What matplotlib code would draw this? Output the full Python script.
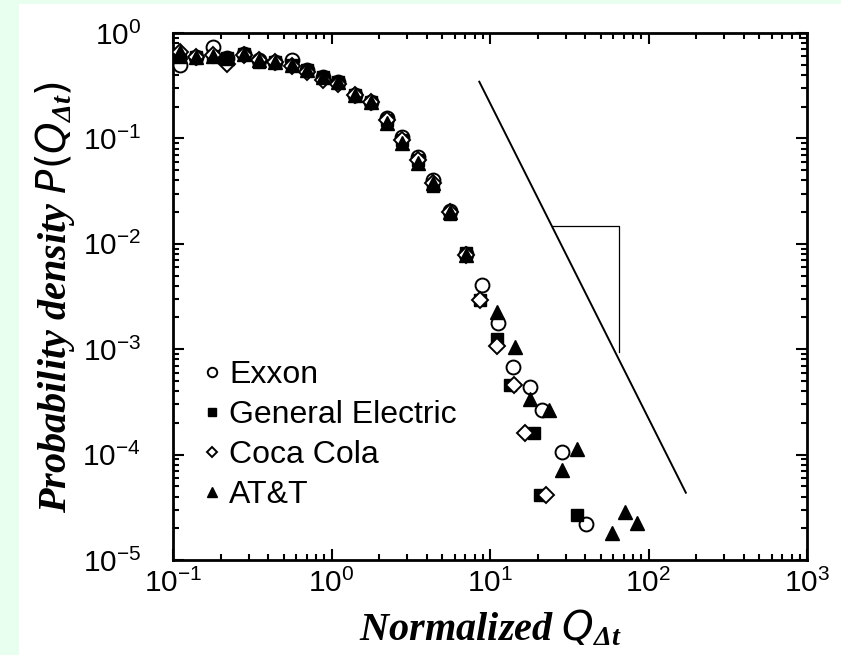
import numpy as np
import matplotlib
matplotlib.use("Agg")
from matplotlib import pyplot as plt
from matplotlib.patches import Rectangle
from matplotlib.ticker import LogLocator, FuncFormatter, NullFormatter

# data
x_common = [0.11, 0.14, 0.18, 0.22, 0.28, 0.35, 0.44, 0.56, 0.70, 0.88,
            1.1, 1.4, 1.78, 2.24, 2.8, 3.5, 4.4, 5.6, 7.1]

exxon_x = x_common + [8.86, 11.3, 13.9, 17.8, 21.3, 28.4, 40.2]
exxon_y = [0.50, 0.59, 0.74, 0.58, 0.63, 0.55, 0.53, 0.55, 0.45, 0.38,
           0.34, 0.26, 0.22, 0.156, 0.103, 0.067, 0.040, 0.0205, 0.0080,
           0.00406, 0.00176, 6.8e-4, 4.4e-4, 2.65e-4, 1.07e-4, 2.2e-5]

ge_x = x_common + [8.65, 11.0, 13.4, 18.9, 20.7, 35.2]
ge_y = [0.59, 0.59, 0.60, 0.58, 0.63, 0.53, 0.53, 0.50, 0.45, 0.38,
        0.34, 0.26, 0.22, 0.15, 0.097, 0.062, 0.035, 0.019, 0.0082,
        0.00293, 0.00125, 4.57e-4, 1.59e-4, 4.14e-5, 2.67e-5]

coke_x = x_common + [8.65, 11.0, 14.2, 16.6, 22.5]
coke_y = [0.66, 0.59, 0.62, 0.51, 0.62, 0.55, 0.53, 0.49, 0.43, 0.36,
          0.33, 0.26, 0.22, 0.15, 0.097, 0.062, 0.038, 0.020, 0.0078,
          0.00293, 0.00107, 4.57e-4, 1.59e-4, 4.14e-5]

att_x = x_common + [11.0, 14.4, 17.9, 23.6, 28.4, 35.2, 59.1, 71.1, 85.0]
att_y = [0.66, 0.59, 0.60, 0.58, 0.63, 0.55, 0.53, 0.50, 0.45, 0.38,
         0.34, 0.26, 0.22, 0.14, 0.090, 0.058, 0.038, 0.020, 0.0078,
         0.00227, 1.06e-3, 3.37e-4, 2.65e-4, 7.14e-5, 1.12e-4, 1.79e-5,
         2.87e-5, 2.23e-5]

# power law guide line (slope -3) and its bracket
fit_x = [8.56, 172.0]
fit_y = [0.345, 4.35e-5]
bracket_x = [24.6, 65.2, 65.2]
bracket_y = [0.01475, 0.01475, 9.5e-4]

plt.rcParams['font.family'] = ['Liberation Sans', 'DejaVu Sans']
plt.rcParams['mathtext.default'] = 'regular'

fig = plt.figure(figsize=(8.41, 6.55), dpi=100, facecolor='#e8fff0')
fig.patches.append(Rectangle((19/841, 0), 1, 1 - 4/655, transform=fig.transFigure,
                             facecolor='white', edgecolor='none', zorder=-1))
ax = fig.add_axes([173/841, 1 - 560/655, 634/841, 527/655])
ax.set_facecolor('white')

ms = 10
ax.plot(fit_x, fit_y, color='black', lw=1.4)
ax.plot(bracket_x, bracket_y, color='black', lw=0.9)
ax.plot(exxon_x, exxon_y, 'o', ms=ms, mfc='white', mec='black', mew=1.4,
        label='Exxon', zorder=3)
ax.plot(ge_x, ge_y, 's', ms=ms - 1, mfc='black', mec='black',
        label='General Electric', zorder=3)
ax.plot(coke_x, coke_y, 'D', ms=ms - 2, mfc='white', mec='black', mew=1.4,
        label='Coca Cola', zorder=3)
ax.plot(att_x, att_y, '^', ms=ms, mfc='black', mec='black',
        label='AT&T', zorder=3)

ax.set_xscale('log')
ax.set_yscale('log')
ax.set_xlim(0.1, 1000)
ax.set_ylim(1e-5, 1)

fmt = FuncFormatter(lambda v, p: r'$10^{%d}$' % int(round(np.log10(v))))
for a in (ax.xaxis, ax.yaxis):
    a.set_major_locator(LogLocator(base=10, numticks=10))
    a.set_minor_locator(LogLocator(base=10, subs=np.arange(2, 10), numticks=10))
    a.set_major_formatter(fmt)
    a.set_minor_formatter(NullFormatter())

ax.tick_params(which='both', direction='in', top=True, right=True,
               width=1.5, labelsize=21.5)
ax.tick_params(which='major', length=8)
ax.tick_params(which='minor', length=4)
ax.tick_params(axis='x', pad=6.5)
ax.tick_params(axis='y', pad=23)
for s in ax.spines.values():
    s.set_linewidth(2)

ax.set_xlabel(r'Normalized $\mathit{Q}_{\Delta t}$', family='Liberation Serif',
              style='italic', weight='bold', fontsize=29)
ax.set_ylabel(r'Probability density $\mathit{P(Q}_{\Delta t}\mathit{)}$',
              family='Liberation Serif', style='italic', weight='bold', fontsize=29)
ax.xaxis.set_label_coords(0.5, -0.092)
ax.yaxis.set_label_coords(-0.152, 0.5)

leg = ax.legend(loc='upper left', bbox_to_anchor=(0.026, 0.403), frameon=False,
                fontsize=23, markerscale=0.68, handlelength=0.6,
                handletextpad=0.25, labelspacing=0.31, borderaxespad=0)

fig.savefig('out.png', dpi=100, facecolor=fig.get_facecolor())
